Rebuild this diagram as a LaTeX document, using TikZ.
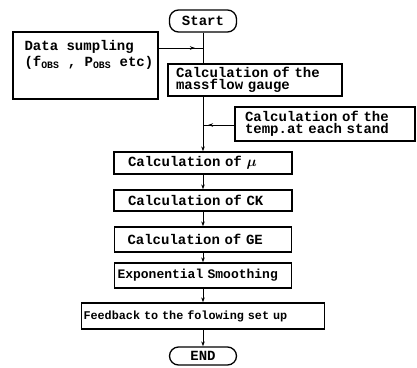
\documentclass[tikz,border=0pt]{standalone}
\usepackage{amsmath}
\usepackage{fontspec}
\newfontfamily\chartmono{Liberation Mono}
\usetikzlibrary{arrows.meta,decorations.markings}
\newcommand\chartfont{\chartmono\bfseries\fontsize{14}{12.5}\selectfont}

\tikzset{
    box/.style={draw, line width=1.3pt, inner ysep=1pt, align=left, font=\chartfont},
    term/.style={draw, line width=1.3pt, rounded corners=9pt, minimum width=67pt, inner sep=1pt, font=\chartfont},
    link/.style={line width=0.9pt},
    flow/.style={line width=0.9pt, -{Stealth[length=5pt,width=3.5pt]}},
    inarrow/.style={postaction={decorate}, decoration={markings,
        mark=at position #1 with {\arrow{Stealth[length=5pt,width=3.5pt]}}}},
}

\begin{document}
\begin{tikzpicture}[x=1pt,y=-1pt]
    \useasboundingbox (0,0) rectangle (417,367);

    % Terminals
    \node[term, minimum height=22pt] (start) at (203,21) {Start};
    \node[term, minimum height=18pt] (end) at (203,356) {END};

    % Input data
    \node[draw, line width=1.3pt, minimum width=145pt, minimum height=67pt] (data) at (85.5,65.5) {};
    \node[anchor=north west, align=left, inner sep=0pt, font=\chartfont] (datatext)
        at ([shift={(12pt,-9pt)}]data.north west)
        {Data sumpling\\[1.5pt](f\textsubscript{OBS} , P\textsubscript{OBS} etc)};

    % Calculation steps
    \node[box, text width=158pt, inner xsep=8pt, minimum height=32pt] (mass) at (255,80)
        {Calculation of the\\massflow gauge};
    \node[box, text width=160pt, inner xsep=10pt, minimum height=34pt] (temp) at (325,124)
        {Calculation of the\\temp.at each stand};
    \node[box, text width=150pt, inner xsep=14pt, minimum height=22pt] (mu) at (203,163)
        {Calculation of $\boldsymbol{\mu}$};
    \node[box, text width=150pt, inner xsep=14pt, minimum height=21pt] (ck) at (203,200.5)
        {Calculation of CK};
    \node[box, text width=151pt, inner xsep=13pt, minimum height=25pt] (ge) at (203,239.5)
        {Calculation of GE};
    \node[box, text width=171pt, inner xsep=3pt, minimum height=25pt,
        font=\chartmono\bfseries\fontsize{13}{13}\selectfont] (smooth) at (203,275.5)
        {Exponential Smoothing};
    \node[box, text width=239pt, inner xsep=2pt, minimum height=26pt,
        font=\chartmono\bfseries\fontsize{11.8}{13}\selectfont] (feed) at (203,316)
        {Feedback to the folowing set up};

    % Junctions on the main line
    \coordinate (dj) at (203,48);
    \coordinate (tj) at (203,125);

    % Connectors
    \draw[link] (start.south) -- (start.south |- mass.north);
    \draw[link, inarrow=0.82] (data.east |- dj) -- (dj);
    \draw[flow] (start.south |- mass.south) -- (mu.north);
    \draw[link, inarrow=0.84] (temp.west |- tj) -- (tj);
    \draw[flow] (mu.south) -- (ck.north);
    \draw[flow] (ck.south) -- (ge.north);
    \draw[flow] (ge.south) -- (smooth.north);
    \draw[flow] (smooth.south) -- (feed.north);
    \draw[flow] (feed.south) -- (end.north);
\end{tikzpicture}
\end{document}
